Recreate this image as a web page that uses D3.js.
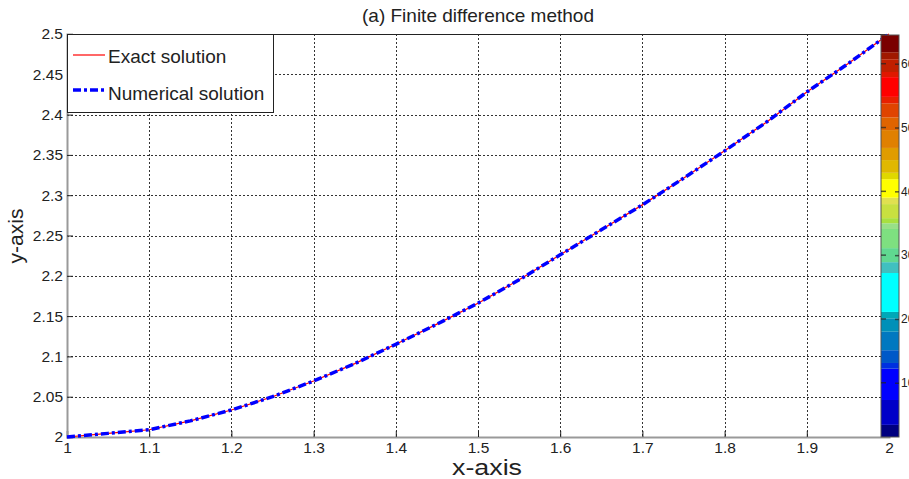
<!DOCTYPE html>
<html>
<head>
<meta charset="utf-8">
<script src="https://cdn.jsdelivr.net/npm/d3@7"></script>
<style>
    body { margin: 0; background: #fff; }
    text { font-family: "Liberation Sans", Arial, sans-serif; fill: #222; }
</style>
</head>
<body>
<div id="chart"></div>
<script>
// values
var xValues = [1.0, 1.05, 1.1, 1.15, 1.2, 1.25, 1.3, 1.35, 1.4, 1.45, 1.5, 1.55, 1.6, 1.65, 1.7, 1.75, 1.8, 1.85, 1.9, 1.95, 2.0]
var exactValues = [2.000, 2.0045, 2.009, 2.020, 2.0335, 2.050, 2.0695, 2.091, 2.115, 2.140, 2.166, 2.195, 2.226, 2.257, 2.288, 2.321, 2.355, 2.390, 2.428, 2.463, 2.500]
var numericalValues = [2.000, 2.0045, 2.009, 2.020, 2.0335, 2.050, 2.0695, 2.091, 2.115, 2.140, 2.166, 2.195, 2.226, 2.257, 2.288, 2.321, 2.355, 2.390, 2.428, 2.463, 2.500]
var xTicks = [1, 1.1, 1.2, 1.3, 1.4, 1.5, 1.6, 1.7, 1.8, 1.9, 2]
var yTicks = [2, 2.05, 2.1, 2.15, 2.2, 2.25, 2.3, 2.35, 2.4, 2.45, 2.5]
var colorbarTicks = [10, 20, 30, 40, 50, 60]
// colorbar bands: lower bound, upper bound, colour
var bandLow = [1.5, 3.4, 7.3, 12.2, 13.1, 15.1, 18, 20.1, 21.1, 27.2, 28.9, 31.1, 34.1, 35, 35.8, 38, 39, 41.9, 42.9, 44.9, 46.8, 49.6, 51.6, 53.8, 54.8, 57.9, 58.7, 60.7, 61.8]
var bandHigh = [3.4, 7.3, 12.2, 13.1, 15.1, 18, 20.1, 21.1, 27.2, 28.9, 31.1, 34.1, 35, 35.8, 38, 39, 41.9, 42.9, 44.9, 46.8, 49.6, 51.6, 53.8, 54.8, 57.9, 58.7, 60.7, 61.8, 64.5]
var bandColors = ['#000080', '#0000c8', '#0000ff', '#0030e0', '#0058c8', '#0078c0', '#0090b8', '#00a8b8', '#00ffff', '#40c0c0',
    '#60d890', '#7ee080', '#98e088', '#a8e040', '#c8e040', '#e0e050', '#ffff00', '#e0d800', '#e0b800', '#e09c00',
    '#e08000', '#e06400', '#e04400', '#e82000', '#ff0000', '#e01800', '#c02000', '#a01800', '#7a0000']

var width = 909, height = 479,
    plot = { left: 67, right: 889, top: 34, bottom: 437 },
    bar = { left: 881, right: 899 }

var svg = d3.select('#chart').append('svg')
    .attr('width', width)
    .attr('height', height)

svg.append('rect').attr('width', width).attr('height', height).attr('fill', '#fff')

var x = d3.scaleLinear().domain([1, 2]).range([plot.left, plot.right])
var y = d3.scaleLinear().domain([2, 2.5]).range([plot.bottom, plot.top])
var c = d3.scaleLinear().domain([1.5, 64.5]).range([plot.bottom, plot.top + 1])

// grid
var grid = svg.append('g').attr('class', 'grid')
grid.selectAll('.gx').data(xTicks.slice(1, -1)).enter().append('line')
    .attr('x1', d => Math.round(x(d)) + 0.5).attr('x2', d => Math.round(x(d)) + 0.5)
    .attr('y1', plot.top).attr('y2', plot.bottom)
grid.selectAll('.gy').data(yTicks.slice(1, -1)).enter().append('line')
    .attr('x1', plot.left).attr('x2', plot.right)
    .attr('y1', d => Math.round(y(d)) + 0.5).attr('y2', d => Math.round(y(d)) + 0.5)
grid.selectAll('line')
    .attr('stroke', '#333').attr('stroke-width', 1).attr('stroke-dasharray', '2,2')

// frame top
svg.append('line')
    .attr('x1', plot.left).attr('x2', plot.right)
    .attr('y1', plot.top + 0.5).attr('y2', plot.top + 0.5)
    .attr('stroke', '#222').attr('stroke-width', 1)

// axes
var xAxis = svg.append('g')
    .attr('transform', 'translate(0,' + plot.bottom + ')')
    .call(d3.axisBottom(x).tickValues(xTicks).tickFormat(d3.format('')).tickSize(-6).tickPadding(5))
var yAxis = svg.append('g')
    .attr('transform', 'translate(' + plot.left + ',0)')
    .call(d3.axisLeft(y).tickValues(yTicks).tickFormat(d3.format('')).tickSize(-6).tickPadding(4))

;[xAxis, yAxis].forEach(function (axis) {
    axis.select('.domain').attr('stroke', '#999').attr('stroke-width', 2)
    axis.selectAll('.tick line').attr('stroke', '#222')
    axis.selectAll('.tick text').style('font-size', '15.5px').attr('fill', '#222')
})

// lines
var line = d3.line().x((d, i) => x(xValues[i])).y(d => y(d))

svg.append('path')
    .attr('d', line(exactValues))
    .attr('fill', 'none').attr('stroke', '#ff0000').attr('stroke-width', 1.2)
svg.append('path')
    .attr('d', line(numericalValues))
    .attr('fill', 'none').attr('stroke', '#0000ff').attr('stroke-width', 3.5)
    .attr('stroke-dasharray', '8,3,3,3')

// colorbar
var cb = svg.append('g').attr('class', 'colorbar')
cb.selectAll('rect').data(bandColors).enter().append('rect')
    .attr('x', bar.left).attr('width', bar.right - bar.left)
    .attr('y', (d, i) => c(bandHigh[i]))
    .attr('height', (d, i) => c(bandLow[i]) - c(bandHigh[i]))
    .attr('fill', d => d)
cb.append('rect')
    .attr('x', bar.left).attr('y', c(64.5)).attr('width', bar.right - bar.left).attr('height', c(1.5) - c(64.5))
    .attr('fill', 'none').attr('stroke', '#555').attr('stroke-width', 1)
var cbAxis = cb.append('g')
    .attr('transform', 'translate(' + bar.right + ',0)')
    .call(d3.axisRight(c).tickValues(colorbarTicks).tickSize(-4).tickPadding(2))
cbAxis.select('.domain').remove()
cbAxis.selectAll('.tick line').attr('stroke', '#222').attr('stroke-opacity', 0.7).attr('stroke-width', 1.5)
cbAxis.selectAll('.tick text').style('font-size', '12px').attr('fill', '#222')
cb.selectAll('.lt').data(colorbarTicks).enter().append('line')
    .attr('x1', bar.left).attr('x2', bar.left + 5)
    .attr('y1', d => c(d)).attr('y2', d => c(d))
    .attr('stroke', '#222').attr('stroke-opacity', 0.7).attr('stroke-width', 1.5)

// legend
var legend = svg.append('g')
legend.append('rect')
    .attr('x', plot.left + 0.5).attr('y', plot.top + 0.5).attr('width', 206).attr('height', 78)
    .attr('fill', '#fff').attr('stroke', '#222').attr('stroke-width', 1)
legend.append('line')
    .attr('x1', 73).attr('x2', 105).attr('y1', 55).attr('y2', 55)
    .attr('stroke', '#ff0000').attr('stroke-width', 1.2)
legend.append('text').attr('x', 108).attr('y', 63).style('font-size', '19px').text('Exact solution')
legend.append('line')
    .attr('x1', 73).attr('x2', 105).attr('y1', 90).attr('y2', 90)
    .attr('stroke', '#0000ff').attr('stroke-width', 3.5).attr('stroke-dasharray', '8,3,3,3')
legend.append('text').attr('x', 108).attr('y', 100).style('font-size', '19px').text('Numerical solution')

// titles
svg.append('text').attr('x', 478).attr('y', 22).attr('text-anchor', 'middle')
    .style('font-size', '19px').text('(a) Finite difference method')
svg.append('text').attr('x', 487).attr('y', 475).attr('text-anchor', 'middle')
    .attr('textLength', 70).attr('lengthAdjust', 'spacingAndGlyphs')
    .style('font-size', '22px').text('x-axis')
svg.append('text').attr('transform', 'translate(23,236) rotate(-90)').attr('text-anchor', 'middle')
    .style('font-size', '21px').text('y-axis')
</script>
</body>
</html>
